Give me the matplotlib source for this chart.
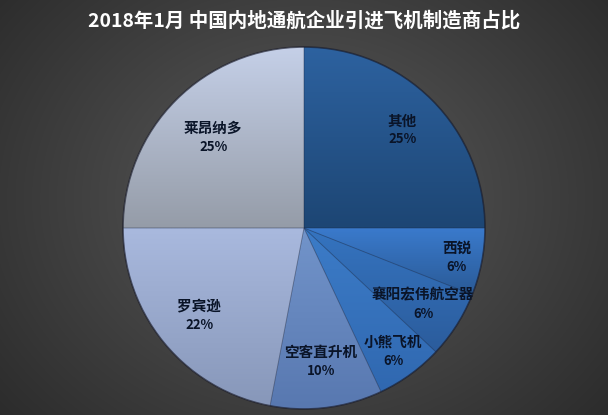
import numpy as np
import matplotlib
matplotlib.use("Agg")
import matplotlib.pyplot as plt
from matplotlib.colors import to_rgb
from matplotlib.patches import Wedge

plt.rcParams['font.family'] = ['Noto Sans CJK SC', 'DejaVu Sans']

title = "2018年1月 中国内地通航企业引进飞机制造商占比"
labels = ["其他", "西锐", "襄阳宏伟航空器", "小熊飞机", "空客直升机", "罗宾逊", "莱昂纳多"]
values = [25, 6, 6, 6, 10, 22, 25]

# style (top colour, bottom colour) per slice and label distance
top_cols = ["#2d62a0", "#3a7acc", "#3574c0", "#3c7cc8", "#7294ca", "#a9b9de", "#c5d0e8"]
bot_cols = ["#1d4674", "#2a5a96", "#2b5c9c", "#3068b0", "#5878b0", "#8797b9", "#959ca8"]
label_dist = [0.77, 0.86, 0.78, 0.84, 0.74, 0.75, 0.71]

W, H = 608, 415
fig = plt.figure(figsize=(W / 100, H / 100), dpi=100)
ax = fig.add_axes([0, 0, 1, 1])

# radial background
yy, xx = np.mgrid[0:H, 0:W]
d = np.sqrt(((xx - 304) / 360.0) ** 2 + ((yy - 215) / 300.0) ** 2)
v = np.clip(0.36 - 0.17 * d, 0.12, 0.4)
bg = np.dstack([v, v, v])
ax.imshow(bg, extent=(0, W, 0, H), origin='lower', zorder=0, interpolation='bilinear')

cx, cy, R = 304, H - 228, 181
wedges, _ = ax.pie(values, startangle=90, counterclock=False, center=(cx, cy), radius=R,
                   colors=top_cols, wedgeprops=dict(linewidth=0))

for i, w in enumerate(wedges):
    w.set_zorder(2)
    t1, t2 = np.radians(w.theta1), np.radians(w.theta2)
    ts = np.linspace(t1, t2, 200)
    xs = np.concatenate([[cx], cx + R * np.cos(ts)])
    ys = np.concatenate([[cy], cy + R * np.sin(ts)])
    x0, x1, y0, y1 = xs.min(), xs.max(), ys.min(), ys.max()
    c1, c2 = np.array(to_rgb(top_cols[i])), np.array(to_rgb(bot_cols[i]))
    f = np.linspace(0, 1, 100)[:, None]
    grad = (c1 * (1 - f) + c2 * f)[:, None, :]
    im = ax.imshow(grad, extent=(x0, x1, y0, y1), origin='upper', aspect='auto',
                   zorder=3, interpolation='bilinear')
    im.set_clip_path(w)
    edge = Wedge((cx, cy), R, w.theta1, w.theta2, facecolor='none',
                 edgecolor=(0.1, 0.15, 0.25, 0.25), linewidth=0.6, zorder=4)
    ax.add_patch(edge)
    mid = np.radians((w.theta1 + w.theta2) / 2)
    lx = cx + label_dist[i] * R * np.cos(mid)
    ly = cy + label_dist[i] * R * np.sin(mid)
    ax.text(lx, ly + 9, labels[i], ha='center', va='center', fontsize=10.5,
            fontweight='bold', color='#0a1428', zorder=5)
    ax.text(lx, ly - 10, f"{values[i]}%", ha='center', va='center', fontsize=9.5,
            fontweight='bold', color='#0a1428', zorder=5)

outline = plt.Circle((cx, cy), R, facecolor='none', edgecolor=(0.1, 0.1, 0.15, 0.6),
                     linewidth=1.2, zorder=4)
ax.add_patch(outline)

ax.text(W / 2, H - 21, title, ha='center', va='center', fontsize=14,
        fontweight='bold', color='white', zorder=5)

ax.set_xlim(0, W)
ax.set_ylim(0, H)
ax.set_aspect('auto')
ax.axis('off')
fig.savefig("out.png", dpi=100)
